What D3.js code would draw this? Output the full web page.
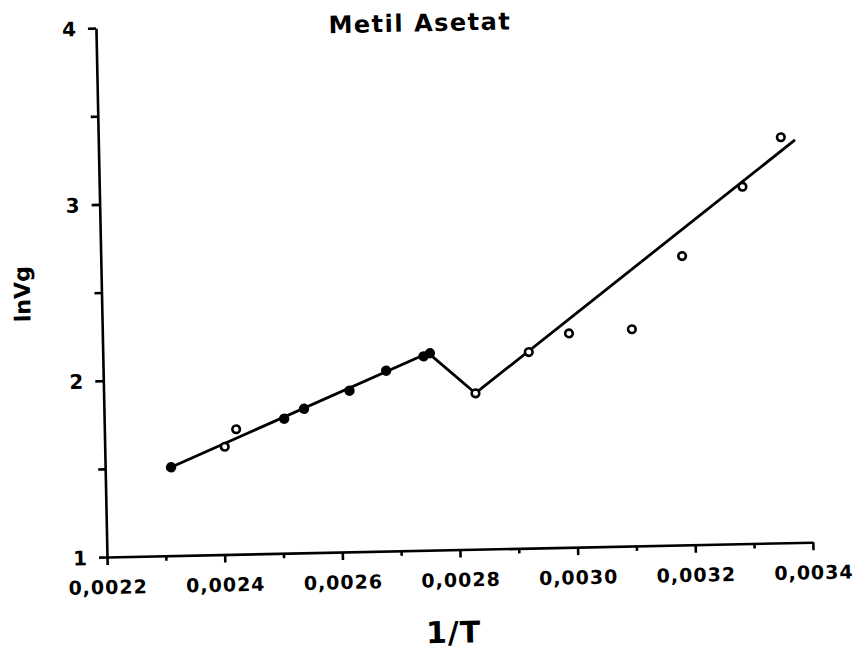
<!DOCTYPE html>
<html>
<head>
<meta charset="utf-8">
<script src="https://cdn.jsdelivr.net/npm/d3@7"></script>
<style>
  html, body { margin: 0; padding: 0; background: #fff; }
  text { font-family: "DejaVu Sans", sans-serif; fill: #000; }
</style>
</head>
<body>
<svg id="chart" width="855" height="652"></svg>
<script>
// ---- data ----
const titleText = "Metil Asetat";
const xLabel = "1/T";
const yLabel = "lnVg";
const xMajorTicks = [0.0022, 0.0024, 0.0026, 0.0028, 0.0030, 0.0032, 0.0034];
const xMinorTicks = [0.0023, 0.0025, 0.0027, 0.0029, 0.0031, 0.0033];
const yMajorTicks = [1, 2, 3, 4];
const yMinorTicks = [1.5, 2.5, 3.5];

// filled markers
const solidX = [0.002312, 0.002506, 0.002540, 0.002618, 0.002681, 0.002745, 0.002756];
const solidY = [1.501, 1.763, 1.817, 1.914, 2.023, 2.100, 2.117];
// open markers
const openX = [0.002404, 0.002424, 0.002832, 0.002924, 0.002993, 0.003100, 0.003188, 0.003293, 0.003360];
const openY = [1.611, 1.709, 1.884, 2.112, 2.213, 2.229, 2.638, 3.024, 3.300];
// fitted broken line
const lineX = [0.002312, 0.002753, 0.002832, 0.003384];
const lineY = [1.501, 2.119, 1.885, 3.283];

// ---- drawing ----
const svg = d3.select("#chart");
const W = 706, H = 529;
const g = svg.append("g").attr("transform", "translate(107,557) rotate(-1.2)");

const x = d3.scaleLinear().domain([0.0022, 0.0034]).range([0, W]);
const y = d3.scaleLinear().domain([1, 4]).range([0, -H]);

const fmt = d => d.toFixed(4).replace(".", ",");

// x axis
const xAxis = g.append("g")
  .call(d3.axisBottom(x).tickValues(xMajorTicks).tickSize(8).tickSizeOuter(0).tickFormat(fmt));
xAxis.selectAll("text")
  .attr("y", 37).attr("dy", 0)
  .style("font-size", "19px").style("font-weight", "bold")
  .style("letter-spacing", "1px").style("font-family", "DejaVu Sans");
g.append("g")
  .call(d3.axisBottom(x).tickValues(xMinorTicks).tickSize(5).tickFormat(""))
  .select(".domain").remove();

// y axis
const yAxis = g.append("g")
  .call(d3.axisLeft(y).tickValues(yMajorTicks).tickSize(8).tickSizeOuter(0).tickFormat(d3.format("d")));
yAxis.selectAll("text")
  .attr("x", -20).attr("dy", "0.36em")
  .style("font-size", "20px").style("font-weight", "bold").style("font-family", "DejaVu Sans");
g.append("g")
  .call(d3.axisLeft(y).tickValues(yMinorTicks).tickSize(7).tickFormat(""))
  .select(".domain").remove();

g.selectAll(".domain, .tick line").attr("stroke", "#000").attr("stroke-width", 2.6);

// line
const line = d3.line().x(d => x(d[0])).y(d => y(d[1]));
g.append("path")
  .datum(lineX.map((v, i) => [v, lineY[i]]))
  .attr("d", line)
  .attr("fill", "none")
  .attr("stroke", "#000")
  .attr("stroke-width", 2.8)
  .attr("stroke-linejoin", "round");

// solid markers
g.selectAll(".solid")
  .data(solidX.map((v, i) => [v, solidY[i]]))
  .join("circle")
  .attr("class", "solid")
  .attr("cx", d => x(d[0]))
  .attr("cy", d => y(d[1]))
  .attr("r", 5.2)
  .attr("fill", "#000");

// open markers
g.selectAll(".open")
  .data(openX.map((v, i) => [v, openY[i]]))
  .join("circle")
  .attr("class", "open")
  .attr("cx", d => x(d[0]))
  .attr("cy", d => y(d[1]))
  .attr("r", 3.8)
  .attr("fill", "#fff")
  .attr("stroke", "#000")
  .attr("stroke-width", 2.6);

// title
g.append("text")
  .attr("x", 324)
  .attr("y", -519)
  .attr("text-anchor", "middle")
  .style("font-size", "24px")
  .style("font-weight", "bold")
  .style("letter-spacing", "1.5px")
  .text(titleText);

// x label
g.append("text")
  .attr("x", 345)
  .attr("y", 93)
  .attr("text-anchor", "middle")
  .style("font-size", "30px")
  .style("font-weight", "bold")
  .style("letter-spacing", "1px")
  .text(xLabel);

// y label
g.append("text")
  .attr("transform", `translate(-71.5,${y(2.5)}) rotate(-90)`)
  .attr("text-anchor", "middle")
  .style("font-size", "22px")
  .style("font-weight", "bold")
  .text(yLabel);
</script>
</body>
</html>
